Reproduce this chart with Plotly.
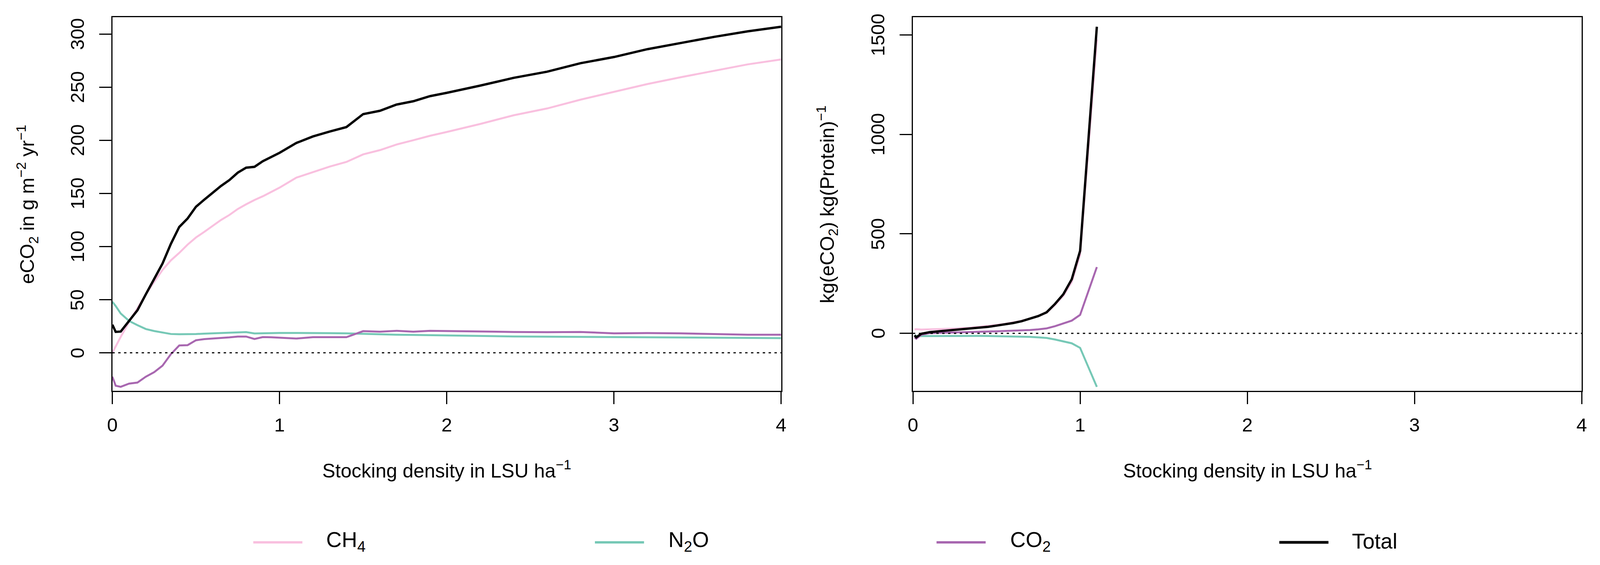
import plotly.graph_objects as go

# positions below are measured on the 4201x1447 original; the page only shows
# 4096px across, so x positions are squeezed by SX, and the body keeps its 8px margin
W, H = 4201, 1447
VIEW_W = 4096
SX = VIEW_W / W
OFF = 8
FW, FH = VIEW_W - 2 * OFF, H - 2 * OFF

# left panel: emissions per area, x = stocking density
sd_area = [0, 0.02, 0.05, 0.1, 0.15, 0.2, 0.25, 0.3, 0.35, 0.4, 0.45, 0.5, 0.55, 0.6, 0.65,
           0.7, 0.75, 0.8, 0.85, 0.9, 0.95, 1.0, 1.1, 1.2, 1.3, 1.4, 1.5, 1.6, 1.7, 1.8, 1.9,
           2.0, 2.2, 2.4, 2.6, 2.8, 3.0, 3.2, 3.4, 3.6, 3.8, 4.0]
ch4_area = [0, 6, 15, 29, 42, 55, 66.7, 78, 87, 94, 101.8, 108.5, 113.8, 119.2, 125,
            129.7, 135.3, 139.7, 143.8, 147.3, 151.4, 155.4, 164.8, 170, 175.2, 179.6, 186.7,
            190.7, 196, 200, 204.2, 207.8, 215.3, 223.5, 229.9, 238.2, 245.6, 252.9, 259.3,
            265.2, 271.4, 276]
n2o_area = [48, 44, 37, 30, 26, 22.4, 20.5, 19, 17.7, 17.5, 17.5, 17.7, 18, 18.3, 18.5,
            18.8, 19.2, 19.5, 18.2, 18.4, 18.6, 18.7, 18.7, 18.8, 18.5, 18.3, 17.8, 17.4,
            17.0, 16.8, 16.5, 16.3, 15.8, 15.4, 15.2, 15.0, 14.6, 14.4, 14.2, 14.0, 13.9, 13.8]
co2_area = [-22.5, -31, -32, -29, -28, -22.5, -18.2, -12.1, -1.3, 6.9, 7.2, 11.8, 12.9, 13.3,
            13.9, 14.5, 15.3, 15.3, 13, 14.8, 14.6, 14.2, 13.4, 14.7, 14.7, 14.7, 20.4, 19.9,
            20.7, 19.9, 20.7, 20.4, 20.2, 19.6, 19.4, 19.6, 18.3, 18.6, 18.3, 17.8, 17, 17]
total_area = [26.5, 19.7, 20, 30, 40, 55, 69, 84, 102.5, 118.4, 126.4, 137.4, 144.1, 150.9,
              157, 162.5, 169.5, 174.2, 175, 180.3, 184.5, 188.2, 197.4, 203.6, 208.2, 212.4,
              224.6, 227.7, 233.6, 236.7, 241.5, 244.6, 251.4, 258.7, 264.5, 272.5, 278.3,
              285.7, 291.5, 297.3, 302.5, 306.8]

# right panel: emissions per kg protein
sd_prot = [0.01, 0.02, 0.05, 0.1, 0.15, 0.2, 0.25, 0.3, 0.35, 0.4, 0.45, 0.5, 0.55, 0.6,
           0.65, 0.7, 0.75, 0.8, 0.85, 0.9, 0.95, 1.0, 1.1]
ch4_prot = [19, 21, 19, 19.5, 20.5, 22.7, 24.2, 25.9, 29, 33.3, 36.7, 42.2, 47.8, 54.6, 63,
            74, 87, 104, 143, 189, 258, 395, 1477]
n2o_prot = [-9, -14, -14, -13.5, -13, -12.7, -12.5, -12.4, -12.5, -12.8, -13.2, -13.7, -14.3,
            -15, -16, -17.5, -20, -23, -31, -41, -50, -73, -269]
co2_prot = [-20, -27, -7, 1, 2.5, 4, 5.3, 6.5, 7.5, 8.5, 9.5, 10.5, 11.5, 12.4, 14, 16.5, 20,
            25, 36, 49, 64, 93, 333]
total_prot = [-10, -20, -2, 6, 10, 14, 17, 20, 24, 29, 33, 39, 45, 52, 61, 73, 87, 106, 148,
              197, 272, 415, 1541]

names = ["CH<sub>4</sub>", "N<sub>2</sub>O", "CO<sub>2</sub>", "Total"]
colors = ["#F9C0DF", "#76C8B6", "#A867B0", "#000000"]
widths = [5, 5, 5, 6]

x_ticks = [0, 1, 2, 3, 4]
y_ticks_area = [0, 50, 100, 150, 200, 250, 300]
y_ticks_prot = [0, 500, 1000, 1500]

FONT = "Liberation Sans, Arial, Helvetica, sans-serif"


def px_x(p):
    return (p * SX - OFF) / FW


def px_y(p):
    return 1 - (p - OFF) / FH


fig = go.Figure()

area_series = [ch4_area, n2o_area, co2_area, total_area]
prot_series = [ch4_prot, n2o_prot, co2_prot, total_prot]
for i in range(4):
    fig.add_trace(go.Scatter(x=sd_area, y=area_series[i], mode="lines", name=names[i],
                             line=dict(color=colors[i], width=widths[i]),
                             xaxis="x", yaxis="y", showlegend=False))
for i in range(4):
    fig.add_trace(go.Scatter(x=sd_prot, y=prot_series[i], mode="lines", name=names[i],
                             line=dict(color=colors[i], width=widths[i]),
                             xaxis="x2", yaxis="y2", showlegend=False))

# dotted zero lines
for xr, yr in [("x domain", "y"), ("x2 domain", "y2")]:
    fig.add_shape(type="line", xref=xr, yref=yr, x0=0, x1=1, y0=0, y1=0,
                  line=dict(color="black", width=3, dash="6px,9px"), layer="above")

tick_font = dict(family=FONT, size=49, color="black")
axis_style = dict(showline=True, linecolor="black", linewidth=3, mirror=True,
                  ticks="outside", ticklen=31, tickwidth=3, tickcolor="black",
                  showgrid=False, zeroline=False, automargin=False, tickfont=tick_font)

y_dom = [px_y(1001), px_y(44)]
fig.update_layout(
    width=FW, height=FH, autosize=False,
    margin=dict(l=0, r=0, t=0, b=0),
    paper_bgcolor="white", plot_bgcolor="white",
    showlegend=False,
    xaxis=dict(domain=[px_x(295), px_x(2051)], range=[0, 4], tickvals=x_ticks,
               anchor="y", ticklabelstandoff=11, **axis_style),
    yaxis=dict(domain=y_dom, range=[-35.8, 315.8], tickvals=y_ticks_area,
               anchor="x", showticklabels=False, **axis_style),
    xaxis2=dict(domain=[px_x(2397), px_x(4153)], range=[0, 4], tickvals=x_ticks,
                anchor="y2", ticklabelstandoff=11, **axis_style),
    yaxis2=dict(domain=y_dom, range=[-289, 1589], tickvals=y_ticks_prot,
                anchor="x2", showticklabels=False, **axis_style),
)

# y tick labels run along the axis, as in the original
for ticks, yref, xpos in [(y_ticks_area, "y", 203), (y_ticks_prot, "y2", 2305)]:
    for v in ticks:
        fig.add_annotation(xref="paper", yref=yref, x=px_x(xpos), y=v, text=str(v),
                           textangle=-90, showarrow=False, font=tick_font,
                           xanchor="center", yanchor="middle")

title_font = dict(family=FONT, size=50, color="black")
annos = [
    dict(x=px_x(1173), y=px_y(1202), text="Stocking density in LSU ha<sup>−1</sup>"),
    dict(x=px_x(3275), y=px_y(1202), text="Stocking density in LSU ha<sup>−1</sup>"),
    dict(x=px_x(71), y=px_y(523), text="eCO<sub>2</sub> in g m<sup>−2</sup> yr<sup>−1</sup>",
         textangle=-90),
    dict(x=px_x(2171), y=px_y(523), text="kg(eCO<sub>2</sub>) kg(Protein)<sup>−1</sup>",
         textangle=-90),
]
for a in annos:
    fig.add_annotation(xref="paper", yref="paper", showarrow=False, font=title_font,
                       xanchor="center", yanchor="middle", **a)

# legend row along the bottom
leg_line_x = [665, 1562, 2459, 3359]
leg_text_x = [854, 1753, 2650, 3548]
for i in range(4):
    fig.add_shape(type="line", xref="paper", yref="paper",
                  x0=px_x(leg_line_x[i]), x1=px_x(leg_line_x[i] + 129),
                  y0=px_y(1389), y1=px_y(1389),
                  line=dict(color=colors[i], width=widths[i] + 1))
    fig.add_annotation(xref="paper", yref="paper", showarrow=False,
                       x=px_x(leg_text_x[i]), y=px_y(1386), text=names[i],
                       xanchor="left", yanchor="middle",
                       font=dict(family=FONT, size=55, color="black"))

fig.write_html("out.html")
